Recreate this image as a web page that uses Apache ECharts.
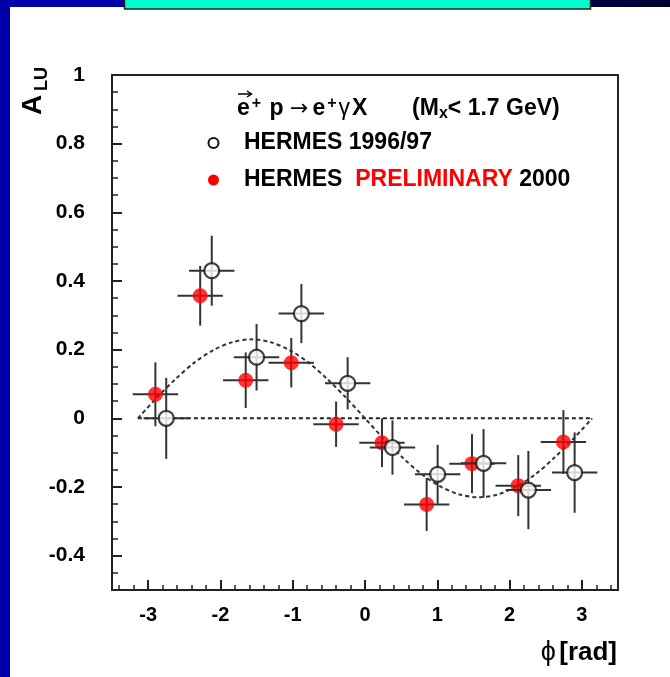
<!DOCTYPE html>
<html>
<head>
<meta charset="utf-8">
<script src="https://cdn.jsdelivr.net/npm/echarts@6/dist/echarts.min.js"></script>
<style>
  html, body { margin: 0; padding: 0; background: #fff; }
  #chart { width: 670px; height: 677px; }
</style>
</head>
<body>
<div id="chart"></div>
<script>
// Beam-spin asymmetry A_LU versus azimuthal angle phi

// HERMES 1996/97 (open circles)
const oldPhi = [-2.75, -2.12, -1.50, -0.88, -0.24, 0.38, 1.005, 1.64, 2.26, 2.90];
const oldA   = [0.000, 0.430, 0.178, 0.305, 0.102, -0.085, -0.163, -0.131, -0.209, -0.158];
const oldErr = [0.118, 0.102, 0.097, 0.086, 0.076, 0.079, 0.086, 0.100, 0.114, 0.117];

// HERMES PRELIMINARY 2000 (filled red circles)
const newPhi = [-2.90, -2.28, -1.65, -1.02, -0.40, 0.235, 0.853, 1.48, 2.12, 2.745];
const newA   = [0.070, 0.357, 0.111, 0.162, -0.017, -0.071, -0.251, -0.132, -0.196, -0.069];
const newErr = [0.093, 0.087, 0.081, 0.072, 0.066, 0.071, 0.077, 0.086, 0.089, 0.093];

// half width of a phi bin (horizontal error bar)
const binHalfWidth = 0.314;

// dashed fit curve, sampled across -pi..pi
const fitPhi = [-3.142, -2.880, -2.618, -2.356, -2.094, -1.833, -1.571, -1.309, -1.047, -0.785, -0.524, -0.262,
                0, 0.262, 0.524, 0.785, 1.047, 1.309, 1.571, 1.833, 2.094, 2.356, 2.618, 2.880, 3.142];
const fitA   = [0, 0.060, 0.115, 0.163, 0.199, 0.222, 0.230, 0.222, 0.199, 0.163, 0.115, 0.060,
                0, -0.060, -0.115, -0.163, -0.199, -0.222, -0.230, -0.222, -0.199, -0.163, -0.115, -0.060, 0];

// zero reference line
const zeroPhi = [-3.142, 3.142];
const zeroA   = [0, 0];

// axis ticks
const xMajorTicks = [-3, -2, -1, 0, 1, 2, 3];
const yMajorTicks = [-0.4, -0.2, 0, 0.2, 0.4, 0.6, 0.8, 1];
const xMinorTicks = [];
for (let i = -17; i <= 17; i++) if (i % 5 !== 0) xMinorTicks.push(+(i * 0.2).toFixed(2));
const yMinorTicks = [];
for (let i = -9; i <= 19; i++) if (i % 4 !== 0) yMinorTicks.push(+(i * 0.05).toFixed(2));

const FONT = '"Liberation Sans", Arial, Helvetica, sans-serif';
const BAR_COLOR = '#333';

function errorBars(params, api) {
  const x = api.value(0), y = api.value(1), e = api.value(2);
  const l = api.coord([x - binHalfWidth, y]);
  const r = api.coord([x + binHalfWidth, y]);
  const t = api.coord([x, y + e]);
  const b = api.coord([x, y - e]);
  const style = { stroke: BAR_COLOR, lineWidth: 2 };
  return {
    type: 'group',
    children: [
      { type: 'line', shape: { x1: l[0], y1: l[1], x2: r[0], y2: r[1] }, style: style },
      { type: 'line', shape: { x1: t[0], y1: t[1], x2: b[0], y2: b[1] }, style: style }
    ]
  };
}

const zip3 = (a, b, c) => a.map((v, i) => [v, b[i], c[i]]);
const zip2 = (a, b) => a.map((v, i) => [v, b[i]]);

const chart = echarts.init(document.getElementById('chart'), null, { renderer: 'canvas' });

const hiddenLine = { show: false, onZero: false };

chart.setOption({
  animation: false,
  backgroundColor: '#ffffff',
  grid: {
    left: 112, top: 75, right: 52, bottom: 87,
    show: true, borderColor: '#222', borderWidth: 2, backgroundColor: 'transparent'
  },
  xAxis: [
    {
      type: 'value', min: -3.5, max: 3.5, gridIndex: 0, position: 'bottom',
      axisLine: hiddenLine,
      splitLine: { show: false },
      axisTick: { show: true, inside: true, length: 10, customValues: xMajorTicks, lineStyle: { color: '#222', width: 2 } },
      axisLabel: { customValues: xMajorTicks, margin: 15, color: '#000', fontFamily: FONT, fontWeight: 'bold', fontSize: 20 }
    },
    {
      type: 'value', min: -3.5, max: 3.5, gridIndex: 0, position: 'bottom',
      axisLine: hiddenLine,
      splitLine: { show: false },
      axisTick: { show: true, inside: true, length: 5, customValues: xMinorTicks, lineStyle: { color: '#222', width: 1.5 } },
      axisLabel: { show: false }
    }
  ],
  yAxis: [
    {
      type: 'value', min: -0.5, max: 1, gridIndex: 0, position: 'left',
      axisLine: hiddenLine,
      splitLine: { show: false },
      axisTick: { show: true, inside: true, length: 10, customValues: yMajorTicks, lineStyle: { color: '#222', width: 2 } },
      axisLabel: {
        customValues: yMajorTicks, margin: 27, color: '#000', fontFamily: FONT, fontWeight: 'bold', fontSize: 21,
        formatter: v => String(+v.toFixed(2))
      }
    },
    {
      type: 'value', min: -0.5, max: 1, gridIndex: 0, position: 'left',
      axisLine: hiddenLine,
      splitLine: { show: false },
      axisTick: { show: true, inside: true, length: 6, customValues: yMinorTicks, lineStyle: { color: '#222', width: 1.5 } },
      axisLabel: { show: false }
    }
  ],
  series: [
    {
      name: 'zero', type: 'line', data: zip2(zeroPhi, zeroA), symbol: 'none',
      lineStyle: { color: '#222', width: 2, type: [4, 3] }, z: 1
    },
    {
      name: 'fit', type: 'line', data: zip2(fitPhi, fitA), symbol: 'none', smooth: 0.3,
      lineStyle: { color: '#333', width: 2, type: [4, 3] }, z: 1
    },
    {
      name: 'new-err', type: 'custom', renderItem: errorBars, data: zip3(newPhi, newA, newErr),
      encode: { x: 0, y: 1 }, z: 2
    },
    {
      name: 'HERMES PRELIMINARY 2000', type: 'scatter', data: zip2(newPhi, newA),
      symbol: 'circle', symbolSize: 15, itemStyle: { color: '#ff0000' }, z: 3
    },
    {
      name: 'old-err', type: 'custom', renderItem: errorBars, data: zip3(oldPhi, oldA, oldErr),
      encode: { x: 0, y: 1 }, z: 4
    },
    {
      name: 'HERMES 1996/97', type: 'scatter', data: zip2(oldPhi, oldA),
      symbol: 'circle', symbolSize: 15, itemStyle: { color: '#ffffff', borderColor: '#111', borderWidth: 2.2 }, z: 5
    }
  ],
  graphic: [
    // page decoration: left strip, top band, caption box
    { type: 'rect', shape: { x: 0, y: 0, width: 10, height: 677 }, style: { fill: '#0000aa' }, z: 10 },
    { type: 'rect', shape: { x: 0, y: 0, width: 130, height: 7 }, style: { fill: '#0000aa' }, z: 10 },
    {
      type: 'rect', shape: { x: 590, y: 0, width: 80, height: 7 },
      style: { fill: new echarts.graphic.LinearGradient(0, 0, 1, 0, [{ offset: 0, color: '#000044' }, { offset: 1, color: '#000030' }]) }, z: 10
    },
    { type: 'rect', shape: { x: 124.5, y: -2, width: 466, height: 11 }, style: { fill: '#00ffcc', stroke: '#222', lineWidth: 1.5 }, z: 11 },

    // y axis title
    {
      type: 'text', x: 33, y: 105, rotation: Math.PI / 2,
      style: { text: 'A', fontFamily: FONT, fontWeight: 'bold', fontSize: 28, fill: '#000', align: 'center', verticalAlign: 'middle' }, z: 20
    },
    {
      type: 'text', x: 42, y: 79, rotation: Math.PI / 2,
      style: { text: 'LU', fontFamily: FONT, fontWeight: 'bold', fontSize: 18, fill: '#000', align: 'center', verticalAlign: 'middle' }, z: 20
    },
    // x axis title
    {
      type: 'text', x: 617, y: 653,
      style: {
        text: '{p|ϕ} {b|[rad]}',
        rich: {
          p: { fontFamily: FONT, fontSize: 27, fill: '#000' },
          b: { fontFamily: FONT, fontWeight: 'bold', fontSize: 26, fill: '#000' }
        },
        align: 'right', verticalAlign: 'middle'
      }, z: 20
    },

    // reaction label
    {
      type: 'text', x: 237, y: 109,
      style: {
        text: '{b|e}{sp|+}{b| p }{ar|→}{b|e}{sp|+}{g|γ}{b|X       (M}{sb|x}{b|< 1.7 GeV)}',
        rich: {
          b: { fontFamily: FONT, fontWeight: 'bold', fontSize: 23, fill: '#000' },
          ar: { fontFamily: '"DejaVu Sans", sans-serif', fontSize: 22, fill: '#000', padding: [0, 4, 0, 0] },
          g: { fontFamily: FONT, fontSize: 23, fill: '#000', padding: [0, 2, 0, 0] },
          sp: { fontFamily: FONT, fontWeight: 'bold', fontSize: 16, fill: '#000', verticalAlign: 'top', padding: [0, 2, 8, 2] },
          sb: { fontFamily: FONT, fontWeight: 'bold', fontSize: 16, fill: '#000', verticalAlign: 'bottom', padding: [10, 0, 0, 0] }
        },
        align: 'left', verticalAlign: 'middle'
      }, z: 20
    },
    // polarisation arrow over the beam e
    { type: 'line', shape: { x1: 238, y1: 94, x2: 251, y2: 94 }, style: { stroke: '#000', lineWidth: 1.5 }, z: 20 },
    { type: 'polyline', shape: { points: [[247, 91], [251.5, 94], [247, 97]] }, style: { stroke: '#000', lineWidth: 1.5, fill: null }, z: 20 },

    // legend entries
    { type: 'circle', shape: { cx: 213.5, cy: 143, r: 5 }, style: { fill: '#fff', stroke: '#111', lineWidth: 2 }, z: 20 },
    {
      type: 'text', x: 244, y: 143,
      style: { text: 'HERMES 1996/97', fontFamily: FONT, fontWeight: 'bold', fontSize: 23, fill: '#000', align: 'left', verticalAlign: 'middle' }, z: 20
    },
    { type: 'circle', shape: { cx: 213.5, cy: 180, r: 5.5 }, style: { fill: '#ff0000' }, z: 20 },
    {
      type: 'text', x: 244, y: 180,
      style: {
        text: '{b|HERMES  }{r|PRELIMINARY}{b| 2000}',
        rich: {
          b: { fontFamily: FONT, fontWeight: 'bold', fontSize: 23, fill: '#000' },
          r: { fontFamily: FONT, fontWeight: 'bold', fontSize: 23, fill: '#ff0000' }
        },
        align: 'left', verticalAlign: 'middle'
      }, z: 20
    }
  ]
});
</script>
</body>
</html>
